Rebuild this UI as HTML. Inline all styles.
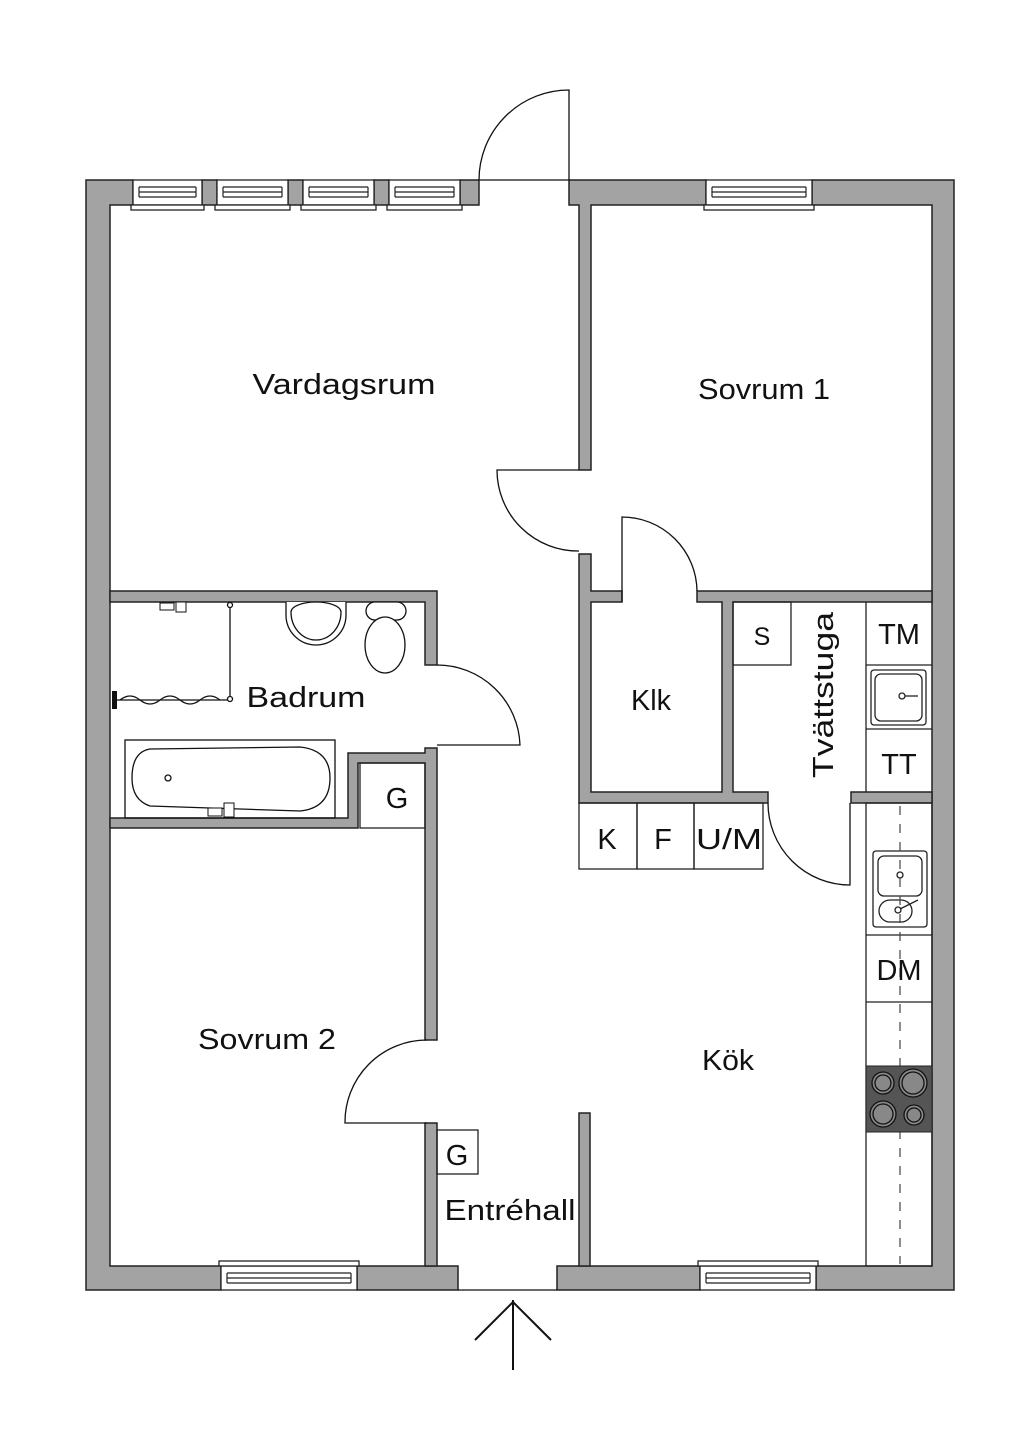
<!DOCTYPE html>
<html><head><meta charset="utf-8"><style>
html,body{margin:0;padding:0;background:#fff;}
svg{display:block;}
text{font-family:"Liberation Sans","DejaVu Sans",sans-serif;fill:#111;}
</style></head><body>
<svg width="1024" height="1448" viewBox="0 0 1024 1448" xmlns="http://www.w3.org/2000/svg">
<rect width="1024" height="1448" fill="#fff"/>
<g fill="#a3a3a3" stroke="#222" stroke-width="1.5">
<path d="M86,180 H133 V205 H110 V1266 H221 V1290 H86 Z"/>
<rect x="202" y="180" width="15" height="25"/>
<rect x="288" y="180" width="15" height="25"/>
<rect x="374" y="180" width="15" height="25"/>
<rect x="460" y="180" width="19" height="25"/>
<path d="M569,180 H706 V205 H591 V470 H579 V205 H569 Z"/>
<path d="M812,180 H954 V1290 H816 V1266 H932 V205 H812 Z"/>
<rect x="357" y="1266" width="101" height="24"/>
<rect x="557" y="1266" width="143" height="24"/>
<path d="M579,554 H591 V591 H622 V602 H591 V792 H722 V602 H697 V591 H932 V602 H733 V792 H768 V803 H579 Z"/>
<rect x="851" y="792" width="81" height="11"/>
<path d="M110,591 H437 V665 H425 V602 H110 Z"/>
<path d="M425,748 H437 V1040 H425 V763 H358 V828 H110 V818 H348 V753 H425 Z"/>
<rect x="425" y="1123" width="12" height="143"/>
<rect x="579" y="1113" width="11" height="153"/>
</g>
<g fill="#fff" stroke="#222" stroke-width="1.3">
<rect x="133" y="180" width="69" height="25"/><rect x="131" y="205" width="73" height="5"/>
<rect x="217" y="180" width="71" height="25"/><rect x="215" y="205" width="75" height="5"/>
<rect x="303" y="180" width="71" height="25"/><rect x="301" y="205" width="75" height="5"/>
<rect x="389" y="180" width="71" height="25"/><rect x="387" y="205" width="75" height="5"/>
<rect x="706" y="180" width="106" height="25"/><rect x="704" y="205" width="110" height="5"/>
<rect x="221" y="1266" width="136" height="24"/><rect x="219" y="1261" width="140" height="5"/>
<rect x="700" y="1266" width="116" height="24"/><rect x="698" y="1261" width="120" height="5"/>
</g>
<g stroke="#222" stroke-width="1.2" fill="none">
<path d="M139,187 H196 M139,192 H196 M139,197 H196 M139,187 V197 M196,187 V197"/>
<path d="M223,187 H282 M223,192 H282 M223,197 H282 M223,187 V197 M282,187 V197"/>
<path d="M309,187 H368 M309,192 H368 M309,197 H368 M309,187 V197 M368,187 V197"/>
<path d="M395,187 H454 M395,192 H454 M395,197 H454 M395,187 V197 M454,187 V197"/>
<path d="M712,187 H806 M712,192 H806 M712,197 H806 M712,187 V197 M806,187 V197"/>
<path d="M227,1273 H351 M227,1278 H351 M227,1283 H351 M227,1273 V1283 M351,1273 V1283"/>
<path d="M706,1273 H810 M706,1278 H810 M706,1283 H810 M706,1273 V1283 M810,1273 V1283"/>
</g>
<g stroke="#111" stroke-width="1.3" fill="none">
<path d="M479,180 H569 M569,180 V90 A90,90 0 0 0 479,180"/>
<path d="M579,470 H497 A81,81 0 0 0 579,551"/>
<path d="M622,602 V517 A75,75 0 0 1 697,591"/>
<path d="M768,803 A82,82 0 0 0 850,885 V803"/>
<path d="M437,665 A83,83 0 0 1 520,745 H437"/>
<path d="M427,1123 H345 A82,82 0 0 1 427,1040"/>
<path d="M458,1290 H557"/>
<path d="M513,1300 V1370 M475,1340 L513,1302 L551,1340" stroke-width="2"/>
</g>
<g stroke="#222" stroke-width="1.3" fill="none">
<rect x="733" y="602" width="58" height="63"/>
<path d="M866,602 V792 M866,665 H932 M866,729 H932"/>
<rect x="579" y="803" width="58" height="66"/><rect x="637" y="803" width="57" height="66"/><rect x="694" y="803" width="69" height="66"/>
<rect x="866" y="803" width="66" height="463"/>
<path d="M866,935 H932 M866,1002 H932"/>
<rect x="437" y="1130" width="41" height="44"/>
<rect x="360" y="763" width="65" height="65"/>
<rect x="871" y="670" width="55" height="55" rx="3"/><rect x="875" y="674" width="47" height="47" rx="6"/>
<circle cx="902" cy="696" r="3"/><path d="M905,696 H918"/>
<rect x="873" y="851" width="54" height="76" rx="3"/><rect x="878" y="856" width="44" height="40" rx="6"/>
<rect x="879" y="900" width="33" height="22" rx="11"/>
<circle cx="900" cy="875" r="3"/><circle cx="898" cy="910" r="3"/><path d="M900,909 L918,900"/>
</g>
<path d="M900,806 V1264" stroke="#444" stroke-width="1.2" stroke-dasharray="9,9"/>
<rect x="866" y="1066" width="66" height="66" fill="#555" stroke="#222"/>
<g fill="#888" stroke="#111" stroke-width="1.3">
<circle cx="883" cy="1083" r="11"/><circle cx="883" cy="1083" r="8"/>
<circle cx="913" cy="1083" r="14"/><circle cx="913" cy="1083" r="11"/>
<circle cx="883" cy="1114" r="13"/><circle cx="883" cy="1114" r="10"/>
<circle cx="914" cy="1115" r="10"/><circle cx="914" cy="1115" r="7"/>
</g>
<g stroke="#111" stroke-width="1.3" fill="#fff">
<path d="M286,602 V615 A30,30 0 0 0 346,615 V602"/>
<path d="M291,612 A25,28 0 0 0 341,612 A25,10 0 0 0 291,612 Z"/>
<rect x="366" y="602" width="40" height="18" rx="9"/>
<ellipse cx="385" cy="645" rx="20" ry="28"/>
<rect x="125" y="740" width="210" height="78" fill="none"/>
<path d="M150,749 L300,747 Q330,750 330,778 Q330,808 300,811 L150,806 Q132,800 132,778 Q132,752 150,749 Z"/>
<circle cx="168" cy="778" r="3"/>
<path d="M230,602 V700 M112,700 H230" fill="none"/>
<path d="M120,700 q10,-8 20,0 t20,0 t20,0 t20,0 t20,0" fill="none"/>
<circle cx="230" cy="605" r="2.5"/><circle cx="230" cy="699" r="2.5"/>
</g>
<rect x="112" y="691" width="5" height="18" fill="#111"/>
<rect x="160" y="603" width="14" height="7" fill="#fff" stroke="#111"/>
<rect x="176" y="602" width="10" height="10" fill="#fff" stroke="#111"/>
<rect x="208" y="808" width="14" height="8" fill="#fff" stroke="#111"/>
<rect x="224" y="803" width="10" height="14" fill="#fff" stroke="#111"/>
<g font-size="29" text-anchor="middle" lengthAdjust="spacingAndGlyphs">
<text x="344" y="394" textLength="183" lengthAdjust="spacingAndGlyphs">Vardagsrum</text>
<text x="764" y="399" textLength="132" lengthAdjust="spacingAndGlyphs">Sovrum 1</text>
<text x="306" y="707" textLength="119" lengthAdjust="spacingAndGlyphs">Badrum</text>
<text x="651" y="710" textLength="40" lengthAdjust="spacingAndGlyphs">Klk</text>
<text x="762" y="645" font-size="25">S</text>
<text x="899" y="644">TM</text>
<text x="899" y="774">TT</text>
<text x="607" y="849">K</text>
<text x="663" y="849">F</text>
<text x="729" y="849" textLength="66" lengthAdjust="spacingAndGlyphs">U/M</text>
<text x="899" y="980">DM</text>
<text x="728" y="1070" textLength="52" lengthAdjust="spacingAndGlyphs">Kök</text>
<text x="267" y="1049" textLength="138" lengthAdjust="spacingAndGlyphs">Sovrum 2</text>
<text x="397" y="808">G</text>
<text x="457" y="1165">G</text>
<text x="510" y="1220" textLength="131" lengthAdjust="spacingAndGlyphs">Entréhall</text>
<text transform="translate(833,695) rotate(-90)" textLength="166" lengthAdjust="spacingAndGlyphs">Tvättstuga</text>
</g>
</svg>
</body></html>
